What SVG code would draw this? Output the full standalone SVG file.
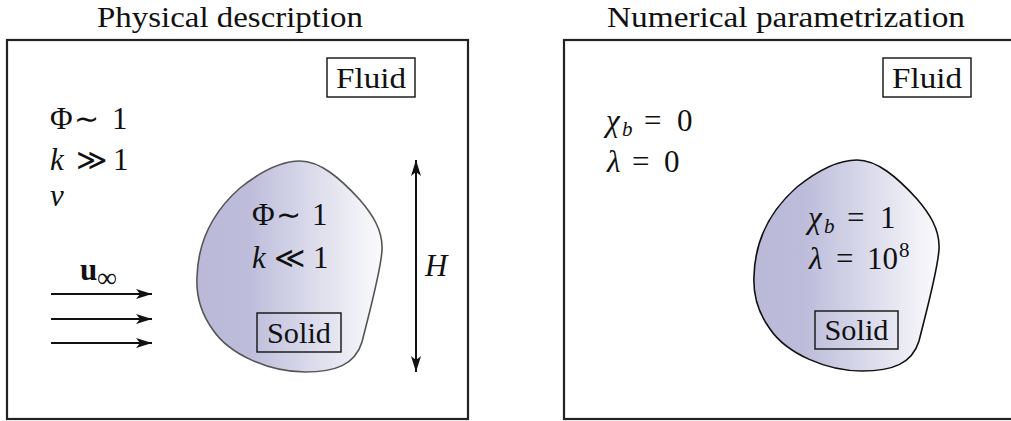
<svg xmlns="http://www.w3.org/2000/svg" width="1011" height="421" viewBox="0 0 1011 421">
<style>
text{font-family:"Liberation Serif",serif;font-size:30px;fill:#111}
.m{font-size:31px}
.sym{font-family:"DejaVu Sans",sans-serif;font-size:30px}
.it{font-style:italic}
.bf{font-weight:bold}
.frame{fill:none;stroke:#222;stroke-width:2.2}
.lbl{fill:none;stroke:#111;stroke-width:1.4}
.arr{stroke:#111;stroke-width:2;fill:none}
</style>
<defs>
<linearGradient id="g" x1="0" y1="0" x2="1" y2="0">
<stop offset="0" stop-color="#babad8"/>
<stop offset="0.28" stop-color="#bdbddb"/>
<stop offset="1" stop-color="#fbfbfd"/>
</linearGradient>
<marker id="ah" markerUnits="userSpaceOnUse" markerWidth="19" markerHeight="12" refX="16" refY="5.5" orient="auto-start-reverse" viewBox="0 0 19 12">
<path d="M0,0.5 L16,5.5 L0,10.5 L4,5.5 Z" fill="#111"/>
</marker>
<path id="blob" d="M300,161 C320,161 340,178 360,200 C372,214 383,230 382,250 C381,270 370,310 362,342 C355,365 335,372 305,372 C270,372 230,355 213,330 C200,312 196,295 197,277 C198,240 215,210 240,188 C260,172 282,161 300,161 Z"/>
</defs>
<rect width="1011" height="421" fill="#fff"/>

<g id="title-physical"><text x="230" y="27" text-anchor="middle" textLength="266" lengthAdjust="spacingAndGlyphs">Physical description</text></g>
<g id="title-numerical"><text x="786" y="27" text-anchor="middle" textLength="358" lengthAdjust="spacingAndGlyphs">Numerical parametrization</text></g>

<g id="panel-physical"><rect class="frame" x="7" y="40" width="461" height="379"/></g>
<g id="panel-numerical"><rect class="frame" x="564" y="40" width="470" height="379"/></g>

<g id="fluid-label-left">
<rect class="lbl" x="327" y="58" width="88" height="39"/>
<text x="371" y="88" text-anchor="middle" textLength="70" lengthAdjust="spacingAndGlyphs">Fluid</text>
</g>
<g id="fluid-label-right">
<rect class="lbl" x="883" y="58" width="88" height="39"/>
<text x="927" y="88" text-anchor="middle" textLength="70" lengthAdjust="spacingAndGlyphs">Fluid</text>
</g>

<g id="fluid-props-left">
<text y="129" class="m"><tspan x="50">Φ</tspan><tspan x="74" class="sym">∼</tspan><tspan x="112">1</tspan></text>
<text y="170" class="m"><tspan x="50" class="it">k</tspan><tspan x="76" class="sym">≫</tspan><tspan x="113">1</tspan></text>
<text y="206" x="50" class="m it">ν</text>
</g>

<g id="flow-label"><text y="280" class="m"><tspan x="80" class="bf">u</tspan><tspan x="97" y="287" font-size="28">∞</tspan></text></g>

<g id="solid-left">
<use href="#blob" fill="url(#g)" stroke="#555" stroke-width="1.6"/>
<text y="225" class="m"><tspan x="252">Φ</tspan><tspan x="276" class="sym">∼</tspan><tspan x="312">1</tspan></text>
<text y="268" class="m"><tspan x="252" class="it">k</tspan><tspan x="274" class="sym">≪</tspan><tspan x="313">1</tspan></text>
<rect class="lbl" x="257" y="313" width="84" height="39"/>
<text x="299" y="343" text-anchor="middle" textLength="64" lengthAdjust="spacingAndGlyphs">Solid</text>
</g>

<g id="height-label"><text x="425" y="276" class="m it">H</text></g>

<g id="fluid-props-right">
<text y="131" class="m"><tspan x="606" class="it">χ</tspan><tspan x="622" y="136" font-size="21" class="it">b</tspan><tspan x="644" y="131">=</tspan><tspan x="677">0</tspan></text>
<text y="172" class="m"><tspan x="607" class="it">λ</tspan><tspan x="632">=</tspan><tspan x="664">0</tspan></text>
</g>

<g id="solid-right">
<use href="#blob" transform="translate(557,-1)" fill="url(#g)" stroke="#111" stroke-width="1.6"/>
<text y="228" class="m"><tspan x="808" class="it">χ</tspan><tspan x="824" y="233" font-size="21" class="it">b</tspan><tspan x="847" y="228">=</tspan><tspan x="880">1</tspan></text>
<text y="269" class="m"><tspan x="809" class="it">λ</tspan><tspan x="836">=</tspan><tspan x="867">10</tspan><tspan x="899" y="257" font-size="21">8</tspan></text>
<rect class="lbl" x="815" y="311" width="83" height="38"/>
<text x="856.5" y="340" text-anchor="middle" textLength="64" lengthAdjust="spacingAndGlyphs">Solid</text>
</g>

<g id="connectors">
<line class="arr" x1="51" y1="294" x2="152" y2="294" marker-end="url(#ah)"/>
<line class="arr" x1="51" y1="319" x2="152" y2="319" marker-end="url(#ah)"/>
<line class="arr" x1="51" y1="343" x2="152" y2="343" marker-end="url(#ah)"/>
<line class="arr" x1="416" y1="160" x2="416" y2="372" marker-start="url(#ah)" marker-end="url(#ah)"/>
</g>
</svg>
